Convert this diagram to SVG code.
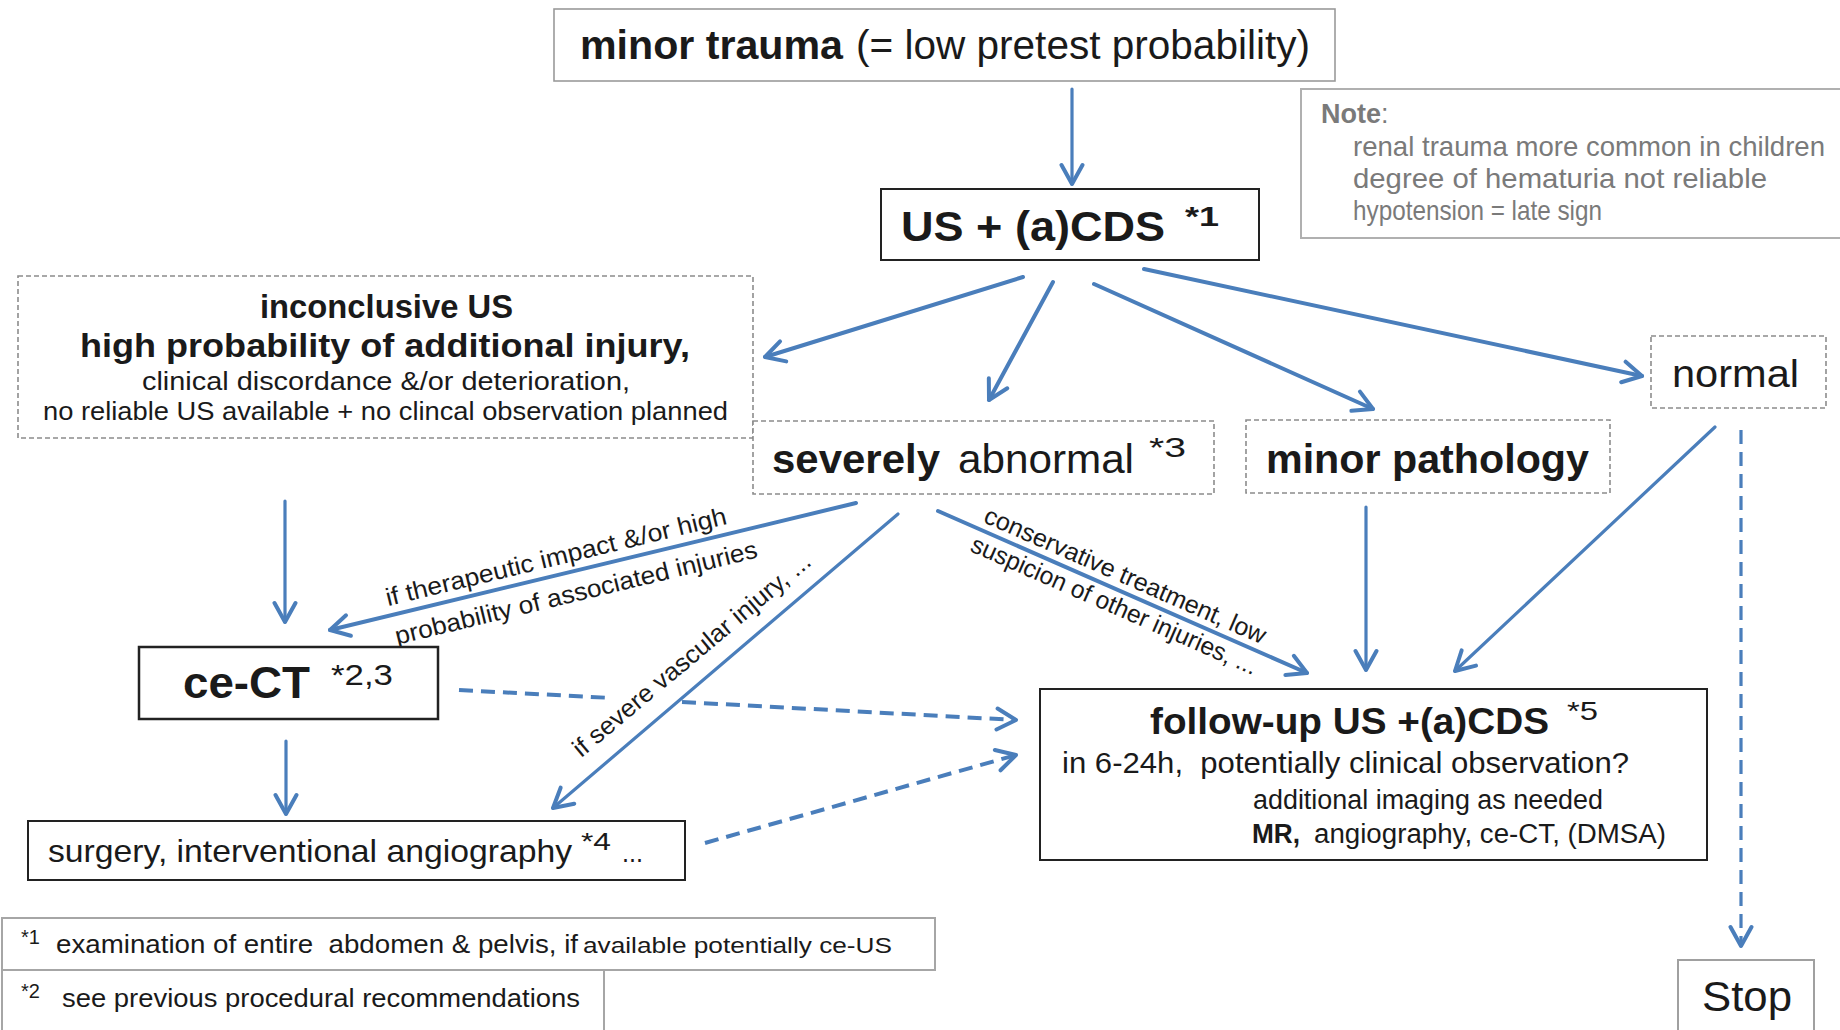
<svg xmlns="http://www.w3.org/2000/svg" width="1840" height="1030" viewBox="0 0 1840 1030">
<style>
.t{font-family:"Liberation Sans",Arial,sans-serif;fill:#1a1a1a}
.b{font-weight:bold}
.g{fill:#7a7a7a}
.box{fill:#fff;stroke:#222;stroke-width:2}
.gbox{fill:#fff;stroke:#a6a6a6;stroke-width:2}
.dbox{fill:#fff;stroke:#8c8c8c;stroke-width:1.6;stroke-dasharray:5 3}
.conn{stroke:#4a7ebb;stroke-width:4;fill:none;stroke-linecap:round}
.thin{stroke-width:3.2}
.dash{stroke-dasharray:14 8;stroke-linecap:butt}
</style>
<defs>
<marker id="ah" viewBox="0 0 26 26" refX="23" refY="13" markerWidth="26" markerHeight="26" markerUnits="userSpaceOnUse" orient="auto">
<path d="M4,2.5 L23,13 L4,23.5" fill="none" stroke="#4a7ebb" stroke-width="4" stroke-linecap="round" stroke-linejoin="round"/>
</marker>
</defs>
<rect width="1840" height="1030" fill="#fff"/>

<g id="connectors">
<line class="conn thin" x1="1072" y1="89" x2="1072" y2="184" marker-end="url(#ah)"/>
<line class="conn" x1="1023" y1="277" x2="765" y2="357" marker-end="url(#ah)"/>
<line class="conn" x1="1053" y1="282" x2="989" y2="400" marker-end="url(#ah)"/>
<line class="conn" x1="1094" y1="284" x2="1373" y2="409" marker-end="url(#ah)"/>
<line class="conn" x1="1144" y1="269" x2="1642" y2="376" marker-end="url(#ah)"/>
<line class="conn thin" x1="285" y1="501" x2="285" y2="622" marker-end="url(#ah)"/>
<line class="conn" x1="856" y1="503" x2="330" y2="630" marker-end="url(#ah)"/>
<line class="conn thin" x1="898" y1="514" x2="553" y2="808" marker-end="url(#ah)"/>
<line class="conn" x1="938" y1="511" x2="1307" y2="673" marker-end="url(#ah)"/>
<line class="conn thin" x1="1366" y1="507" x2="1366" y2="670" marker-end="url(#ah)"/>
<line class="conn thin" x1="1715" y1="427" x2="1455" y2="671" marker-end="url(#ah)"/>
<line class="conn thin" x1="286" y1="741" x2="286" y2="814" marker-end="url(#ah)"/>
<line class="conn thin dash" x1="1741" y1="430" x2="1741" y2="946" marker-end="url(#ah)"/>
<line class="conn dash" x1="459" y1="690" x2="612" y2="698"/>
<line class="conn dash" x1="682" y1="702" x2="1016" y2="720" marker-end="url(#ah)"/>
<line class="conn dash" x1="705" y1="843" x2="1016" y2="755" marker-end="url(#ah)"/>
<text class="t" font-size="25" textLength="350" lengthAdjust="spacingAndGlyphs" text-anchor="middle" transform="translate(558,565) rotate(-13.6)">if therapeutic impact &amp;/or high</text>
<text class="t" font-size="25" textLength="372" lengthAdjust="spacingAndGlyphs" text-anchor="middle" transform="translate(578,601) rotate(-13.6)">probability of associated injuries</text>
<text class="t" font-size="25" textLength="302" lengthAdjust="spacingAndGlyphs" text-anchor="middle" transform="translate(697,661) rotate(-40)">if severe vascular injury, ...</text>
<text class="t" font-size="25" textLength="305" lengthAdjust="spacingAndGlyphs" text-anchor="middle" transform="translate(1122,583) rotate(23.7)">conservative treatment, low</text>
<text class="t" font-size="25" textLength="310" lengthAdjust="spacingAndGlyphs" text-anchor="middle" transform="translate(1111,613) rotate(23.7)">suspicion of other injuries, ...</text>
</g>

<g id="minor-trauma">
<rect class="gbox" x="554" y="9" width="781" height="72" style="stroke:#9a9a9a;stroke-width:1.6"/>
<text class="t b" x="580" y="59" font-size="40" textLength="263" lengthAdjust="spacingAndGlyphs">minor trauma</text>
<text class="t" x="856" y="59" font-size="40" textLength="454" lengthAdjust="spacingAndGlyphs">(= low pretest probability)</text>
</g>

<g id="note">
<rect class="gbox" x="1301" y="89" width="560" height="149" style="stroke:#b0b0b0"/>
<text class="t g" x="1321" y="123" font-size="27"><tspan class="b">Note</tspan>:</text>
<text class="t g" x="1353" y="156" font-size="28" textLength="472" lengthAdjust="spacingAndGlyphs">renal trauma more common in children</text>
<text class="t g" x="1353" y="188" font-size="28" textLength="414" lengthAdjust="spacingAndGlyphs">degree of hematuria not reliable</text>
<text class="t g" x="1353" y="220" font-size="28" textLength="249" lengthAdjust="spacingAndGlyphs">hypotension = late sign</text>
</g>

<g id="us-acds">
<rect class="box" x="881" y="189" width="378" height="71"/>
<text class="t b" x="901" y="241" font-size="42" textLength="264" lengthAdjust="spacingAndGlyphs">US + (a)CDS</text>
<text class="t b" x="1185" y="226" font-size="27" textLength="34" lengthAdjust="spacingAndGlyphs">*1</text>
</g>

<g id="inconclusive">
<rect class="dbox" x="18" y="276" width="735" height="162"/>
<text class="t b" x="260" y="318" font-size="33" textLength="253" lengthAdjust="spacingAndGlyphs">inconclusive US</text>
<text class="t b" x="80" y="357" font-size="33" textLength="610" lengthAdjust="spacingAndGlyphs">high probability of additional injury,</text>
<text class="t" x="142" y="390" font-size="26" textLength="488" lengthAdjust="spacingAndGlyphs">clinical discordance &amp;/or deterioration,</text>
<text class="t" x="43" y="420" font-size="26" textLength="685" lengthAdjust="spacingAndGlyphs">no reliable US available + no clincal observation planned</text>
</g>

<g id="severely-abnormal">
<rect class="dbox" x="753" y="421" width="461" height="73"/>
<text class="t b" x="772" y="473" font-size="40" textLength="168" lengthAdjust="spacingAndGlyphs">severely</text>
<text class="t" x="958" y="473" font-size="40" textLength="176" lengthAdjust="spacingAndGlyphs">abnormal</text>
<text class="t" x="1149" y="457" font-size="27" textLength="37" lengthAdjust="spacingAndGlyphs">*3</text>
</g>

<g id="minor-pathology">
<rect class="dbox" x="1246" y="420" width="364" height="73"/>
<text class="t b" x="1266" y="473" font-size="40" textLength="323" lengthAdjust="spacingAndGlyphs">minor pathology</text>
</g>

<g id="normal">
<rect class="dbox" x="1651" y="336" width="175" height="72"/>
<text class="t" x="1672" y="387" font-size="38" textLength="127" lengthAdjust="spacingAndGlyphs">normal</text>
</g>

<g id="ce-ct">
<rect class="box" x="139" y="647" width="299" height="72" style="stroke-width:2.5"/>
<text class="t b" x="183" y="698" font-size="44" textLength="127" lengthAdjust="spacingAndGlyphs">ce-CT</text>
<text class="t" x="331" y="685" font-size="30" textLength="62" lengthAdjust="spacingAndGlyphs">*2,3</text>
</g>

<g id="surgery">
<rect class="box" x="28" y="821" width="657" height="59"/>
<text class="t" x="48" y="862" font-size="32" textLength="524" lengthAdjust="spacingAndGlyphs">surgery, interventional angiography</text>
<text class="t" x="581" y="850" font-size="23" textLength="30" lengthAdjust="spacingAndGlyphs">*4</text>
<text class="t" x="622" y="862" font-size="28" textLength="21" lengthAdjust="spacingAndGlyphs">...</text>
</g>

<g id="follow-up">
<rect class="box" x="1040" y="689" width="667" height="171"/>
<text class="t b" x="1150" y="734" font-size="36" textLength="399" lengthAdjust="spacingAndGlyphs">follow-up US +(a)CDS</text>
<text class="t" x="1567" y="720" font-size="25" textLength="31" lengthAdjust="spacingAndGlyphs">*5</text>
<text class="t" x="1062" y="773" font-size="29" textLength="567" lengthAdjust="spacingAndGlyphs" style="white-space:pre">in 6-24h,  potentially clinical observation?</text>
<text class="t" x="1253" y="809" font-size="27" textLength="350" lengthAdjust="spacingAndGlyphs">additional imaging as needed</text>
<text class="t b" x="1252" y="843" font-size="27" textLength="48" lengthAdjust="spacingAndGlyphs">MR,</text>
<text class="t" x="1314" y="843" font-size="27" textLength="352" lengthAdjust="spacingAndGlyphs">angiography, ce-CT, (DMSA)</text>
</g>

<g id="stop">
<rect class="gbox" x="1678" y="960" width="136" height="80" style="stroke:#a0a0a0"/>
<text class="t" x="1702" y="1011" font-size="42" textLength="90" lengthAdjust="spacingAndGlyphs">Stop</text>
</g>

<g id="footnote-1">
<rect class="gbox" x="2" y="918" width="933" height="52"/>
<text class="t" x="21" y="944" font-size="20">*1</text>
<text class="t" x="56" y="953" font-size="26" textLength="522" lengthAdjust="spacingAndGlyphs" style="white-space:pre">examination of entire  abdomen &amp; pelvis, if</text>
<text class="t" x="583" y="953" font-size="22" textLength="309" lengthAdjust="spacingAndGlyphs">available potentially ce-US</text>
</g>

<g id="footnote-2">
<rect class="gbox" x="2" y="970" width="602" height="70"/>
<text class="t" x="21" y="998" font-size="20">*2</text>
<text class="t" x="62" y="1007" font-size="26" textLength="518" lengthAdjust="spacingAndGlyphs">see previous procedural recommendations</text>
</g>
</svg>
